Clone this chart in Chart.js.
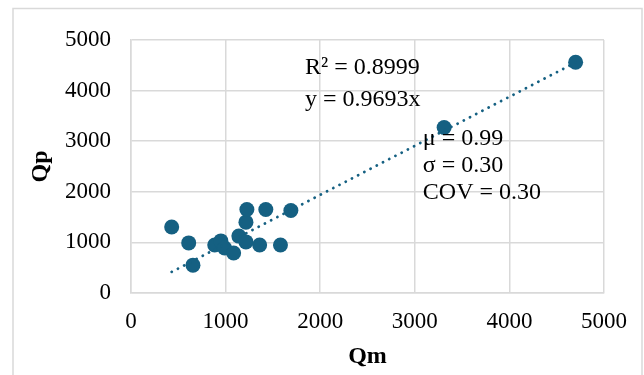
<!DOCTYPE html>
<html>
<head>
<meta charset="utf-8">
<script src="https://cdn.jsdelivr.net/npm/chart.js@4.4.1/dist/chart.umd.min.js"></script>
<style>
  html, body { margin: 0; padding: 0; background: #fff; }
  #wrap { width: 644px; height: 375px; position: relative; }
</style>
</head>
<body>
<div id="wrap"><canvas id="qq-chart" width="644" height="375"></canvas></div>
<script>
// measured vs predicted
const qm = [430, 610, 655, 885, 950, 990, 1085, 1140, 1215, 1215, 1225, 1360, 1425, 1580, 1690, 3310, 4700];
const qp = [1305, 990, 550, 950, 1030, 890, 790, 1125, 1400, 1010, 1650, 950, 1650, 950, 1630, 3270, 4560];

// trendline y = 0.9693x, from smallest to largest Qm
const trendX = [430, 4700];
const trendY = [417, 4556];

const axisTicks = [0, 1000, 2000, 3000, 4000, 5000];

const fitText = ['R² = 0.8999', 'y = 0.9693x'];
const statText = ['μ = 0.99', 'σ = 0.30', 'COV = 0.30'];

const teal = '#156082';
const gridColor = '#d9d9d9';
const serif = '"Liberation Serif", "Times New Roman", serif';

// outer chart frame + text boxes
const frameAndLabels = {
  id: 'frameAndLabels',
  beforeDraw(chart) {
    const c = chart.ctx;
    c.save();
    c.strokeStyle = gridColor;
    c.lineWidth = 1.5;
    c.strokeRect(13, 8.5, 629, 400);
    c.restore();
  },
  afterDatasetsDraw(chart) {
    const c = chart.ctx;
    const xs = chart.scales.x, ys = chart.scales.y;
    c.save();
    c.fillStyle = '#000';
    c.font = '24px ' + serif;
    c.textAlign = 'left';
    c.textBaseline = 'middle';
    let x0 = xs.getPixelForValue(1840), y0 = ys.getPixelForValue(4450);
    fitText.forEach((t, i) => c.fillText(t, x0, y0 + i * 31.5));
    x0 = xs.getPixelForValue(3085); y0 = ys.getPixelForValue(3040);
    statText.forEach((t, i) => c.fillText(t, x0, y0 + i * 27));
    c.restore();
  }
};

new Chart(document.getElementById('qq-chart'), {
  type: 'scatter',
  data: {
    datasets: [{
      type: 'line',
      data: trendX.map((x, i) => ({ x: x, y: trendY[i] })),
      borderColor: teal,
      borderWidth: 2.8,
      borderDash: [0.1, 6.9],
      borderCapStyle: 'round',
      pointRadius: 0,
      fill: false,
      order: 0
    }, {
      data: qm.map((x, i) => ({ x: x, y: qp[i] })),
      backgroundColor: teal,
      borderWidth: 0,
      pointRadius: 7.5,
      pointHoverRadius: 7.5,
      order: 1
    }]
  },
  options: {
    responsive: false,
    animation: false,
    events: [],
    layout: { padding: { left: 0, right: 40, top: 40, bottom: 0 } },
    plugins: { legend: { display: false }, tooltip: { enabled: false } },
    scales: {
      x: {
        type: 'linear',
        min: 0,
        max: 5000,
        afterBuildTicks: s => { s.ticks = axisTicks.map(v => ({ value: v })); },
        afterFit: s => { s.height = 82; },
        grid: { color: gridColor, lineWidth: 1.5, drawTicks: false },
        border: { color: gridColor, width: 1.5 },
        ticks: { color: '#000', font: { family: serif, size: 23 }, padding: 15, maxRotation: 0, callback: v => String(v) },
        title: { display: true, text: 'Qm', color: '#000', font: { family: serif, size: 24, weight: 'bold' }, padding: { top: 0, bottom: 4 } }
      },
      y: {
        type: 'linear',
        min: 0,
        max: 5000,
        afterBuildTicks: s => { s.ticks = axisTicks.map(v => ({ value: v })); },
        afterFit: s => { s.width = 131; },
        grid: { color: gridColor, lineWidth: 1.5, drawTicks: false },
        border: { color: gridColor, width: 1.5 },
        ticks: { color: '#000', font: { family: serif, size: 23 }, padding: 20, callback: v => String(v) },
        title: { display: true, text: 'Qp', color: '#000', font: { family: serif, size: 24, weight: 'bold' }, padding: { top: 26, bottom: 0 } }
      }
    }
  },
  plugins: [frameAndLabels]
});
</script>
</body>
</html>
